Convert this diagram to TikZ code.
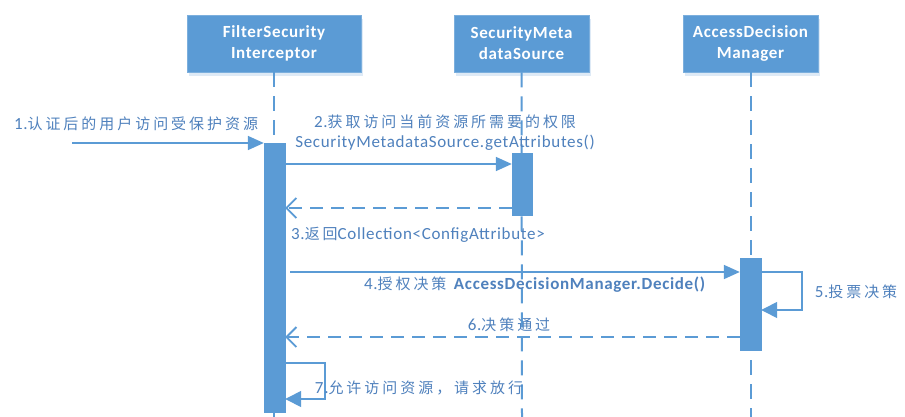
\documentclass[tikz,border=0pt]{standalone}
\usepackage{fontspec}
\setmainfont[LetterSpace=4]{Carlito}
\newfontfamily\cjk[Scale=0.88,LetterSpace=20]{Noto Sans CJK SC}
\usetikzlibrary{arrows.meta,shadows}
\definecolor{boxblue}{RGB}{91,155,213}
\definecolor{txtblue}{RGB}{79,129,189}
\definecolor{shadowblue}{RGB}{200,220,240}
\begin{document}
\begin{tikzpicture}[x=1pt,y=-1pt,
  font=\fontsize{17}{21}\selectfont,
  obj/.style={draw=boxblue!80!white, line width=0.8pt, fill=boxblue, text=white, font=\fontsize{17}{21}\selectfont\bfseries,
    minimum width=174pt, minimum height=57pt, align=center, inner sep=0pt,
    drop shadow={shadow xshift=2pt, shadow yshift=-4pt, fill=shadowblue, opacity=0.6}},
  bar/.style={fill=boxblue, draw=boxblue, minimum width=20pt, inner sep=0pt, anchor=north},
  life/.style={draw=boxblue, line width=2pt, dash pattern=on 15pt off 9pt},
  msg/.style={draw=boxblue, line width=1.8pt, -{Triangle[length=16pt,width=14pt]}},
  ret/.style={draw=boxblue, line width=1.8pt, dash pattern=on 13pt off 8pt, -{Straight Barb[length=10pt,width=20pt,line width=1.8pt]}},
  loopmsg/.style={draw=boxblue, line width=1.4pt, -{Triangle[length=16pt,width=16pt]}},
  lbl/.style={text=txtblue, inner sep=0pt, align=center}
]
\useasboundingbox (0,0) rectangle (905,417);
\fill[white] (0,0) rectangle (905,417);

% objects
\node[obj] (fsi) at (274,43.5) {FilterSecurity\\Interceptor};
\node[obj, minimum width=135pt] (smds) at (521.5,43.5) {SecurityMeta\\dataSource};
\node[obj, minimum width=135pt] (adm) at (750.5,43.5) {AccessDecision\\Manager};

% lifelines
\coordinate (end1) at (274,417);
\coordinate (end2) at (522,417);
\coordinate (end3) at (750.5,417);
\draw[life] (fsi.south) -- (end1);
\draw[life] (smds.south) -- (end2);
\draw[life] (adm.south) -- (end3);

% activation bars
\node[bar, minimum width=21pt, minimum height=269pt] (bar1) at (274.5,143) {};
\node[bar, minimum height=62pt] (bar2) at (522,153) {};
\node[bar, minimum width=21pt, minimum height=92pt] (bar3) at (750.5,258) {};

% message 1
\coordinate (src) at (72,143);
\draw[msg] (src) -- (bar1.west |- src);
\node[lbl] (l1) at (136,124) {1.{\cjk 认证后的用户访问受保护资源}};

% message 2
\coordinate (y2) at (0,164);
\draw[msg] (bar1.east |- y2) -- (bar2.west |- y2);
\node[lbl] (l2a) at (445,122) {2.{\cjk 获取访问当前资源所需要的权限}};
\node[lbl] (l2b) at (445,143) {SecurityMetadataSource.getAttributes()};

% message 3
\coordinate (y3) at (0,208);
\draw[ret] (bar2.west |- y3) -- (bar1.east |- y3);
\node[lbl] (l3) at (418,235) {3.{\cjk 返回}Collection<ConfigAttribute>};

% message 4
\coordinate (y4) at (0,272);
\coordinate (s4) at (290,272);
\draw[msg] (s4) -- (bar3.west |- y4);
\node[lbl] (l4) at (535,285) {4.{\cjk 授权决策} \textbf{AccessDecisionManager.Decide()}};

% message 5 (self)
\coordinate (c5a) at (802,272);
\coordinate (c5b) at (802,310);
\draw[loopmsg] (bar3.east |- c5a) -- (c5a) -- (c5b) -- (bar3.east |- c5b);
\node[lbl] (l5) at (856,292) {5.{\cjk 投票决策}};

% message 6
\coordinate (y6) at (0,337);
\draw[ret] (bar3.west |- y6) -- (bar1.east |- y6);
\node[lbl] (l6) at (509,325) {6.{\cjk 决策通过}};

% message 7 (self)
\coordinate (c7a) at (325,363);
\coordinate (c7b) at (325,399);
\draw[loopmsg] (bar1.east |- c7a) -- (c7a) -- (c7b) -- (bar1.east |- c7b);
\node[lbl] (l7) at (419,388) {7.{\cjk 允许访问资源，请求放行}};
\end{tikzpicture}
\end{document}
